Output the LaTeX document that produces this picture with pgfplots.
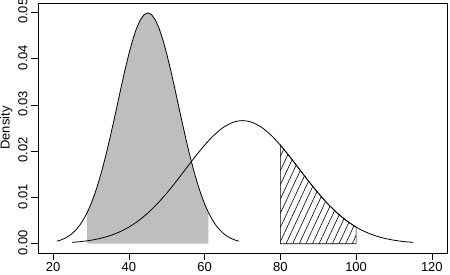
\documentclass[border=0pt]{standalone}
\usepackage{pgfplots}
\pgfplotsset{compat=1.18}
\usepackage{fontspec}
\setmainfont{Liberation Sans}
\usetikzlibrary{patterns.meta}
\definecolor{rgray}{HTML}{BEBEBE}
\begin{document}
\begin{tikzpicture}
\begin{axis}[
  scale only axis, width=409pt, height=250pt,
  xmin=16, xmax=124, ymin=-0.002, ymax=0.052,
  xtick={20,40,...,120},
  ytick={0,0.01,0.02,0.03,0.04,0.05},
  yticklabels={0.00,0.01,0.02,0.03,0.04,0.05},
  xtick pos=left, ytick pos=left,
  tick align=outside, major tick length=7pt,
  tick style={black, line width=0.6pt},
  axis line style={line width=0.6pt},
  font=\fontsize{13}{15}\selectfont,
  /pgf/number format/assume math mode=true,
  yticklabel style={rotate=90, anchor=south, xshift=1pt},
  xticklabel style={yshift=1pt},
  ylabel={Density},
  ylabel style={yshift=-1pt},
  scaled y ticks=false,
  clip=false,
]
% shaded region of first density (29..61)
\addplot[fill=rgray, draw=none] coordinates {
(29,0) (29,0.006749) (30,0.008598) (31,0.010785) (32,0.013317) (33,0.016190) (34,0.019377) (35,0.022831) (36,0.026484) (37,0.030246) (38,0.034007) (39,0.037642) (40,0.041020) (41,0.044008) (42,0.046482) (43,0.048334) (44,0.049480) (45,0.049868) (46,0.049480) (47,0.048334) (48,0.046482) (49,0.044008) (50,0.041020) (51,0.037642) (52,0.034007) (53,0.030246) (54,0.026484) (55,0.022831) (56,0.019377) (57,0.016190) (58,0.013317) (59,0.010785) (60,0.008598) (61,0.006749) (61,0)} -- cycle;
% hatched region of second density (80..100)
\addplot[pattern={Lines[angle=65, distance=6pt, line width=0.6pt]}, draw=black, line width=0.7pt] coordinates {
(80,0) (80,0.021296) (82.5,0.018794) (85,0.016131) (87.5,0.013467) (90,0.010934) (92.5,0.008634) (95,0.006632) (97.5,0.004954) (100,0.003599) (100,0)} -- cycle;
% first density curve
\addplot[black, line width=0.8pt] coordinates {
(21,0.000554) (22,0.000800) (23,0.001137) (24,0.001591) (25,0.002191) (26,0.002971) (27,0.003967) (28,0.005216) (29,0.006749) (30,0.008598) (31,0.010785) (32,0.013317) (33,0.016190) (34,0.019377) (35,0.022831) (36,0.026484) (37,0.030246) (38,0.034007) (39,0.037642) (40,0.041020) (41,0.044008) (42,0.046482) (43,0.048334) (44,0.049480) (45,0.049868) (46,0.049480) (47,0.048334) (48,0.046482) (49,0.044008) (50,0.041020) (51,0.037642) (52,0.034007) (53,0.030246) (54,0.026484) (55,0.022831) (56,0.019377) (57,0.016190) (58,0.013317) (59,0.010785) (60,0.008598) (61,0.006749) (62,0.005216) (63,0.003967) (64,0.002971) (65,0.002191) (66,0.001591) (67,0.001137) (68,0.000800) (69,0.000554)};
% second density curve
\addplot[black, line width=0.8pt, smooth] coordinates {
(25,0.000295) (27.5,0.000480) (30,0.000760) (32.5,0.001169) (35,0.001748) (37.5,0.002543) (40,0.003599) (42.5,0.004954) (45,0.006632) (47.5,0.008634) (50,0.010934) (52.5,0.013467) (55,0.016131) (57.5,0.018794) (60,0.021296) (62.5,0.023471) (65,0.025159) (67.5,0.026229) (70,0.026596) (72.5,0.026229) (75,0.025159) (77.5,0.023471) (80,0.021296) (82.5,0.018794) (85,0.016131) (87.5,0.013467) (90,0.010934) (92.5,0.008634) (95,0.006632) (97.5,0.004954) (100,0.003599) (102.5,0.002543) (105,0.001748) (107.5,0.001169) (110,0.000760) (112.5,0.000480) (115,0.000295)};
\end{axis}
\pgfresetboundingbox
\path (-38pt,-22pt) rectangle (412pt,253pt);
\end{tikzpicture}
\end{document}
